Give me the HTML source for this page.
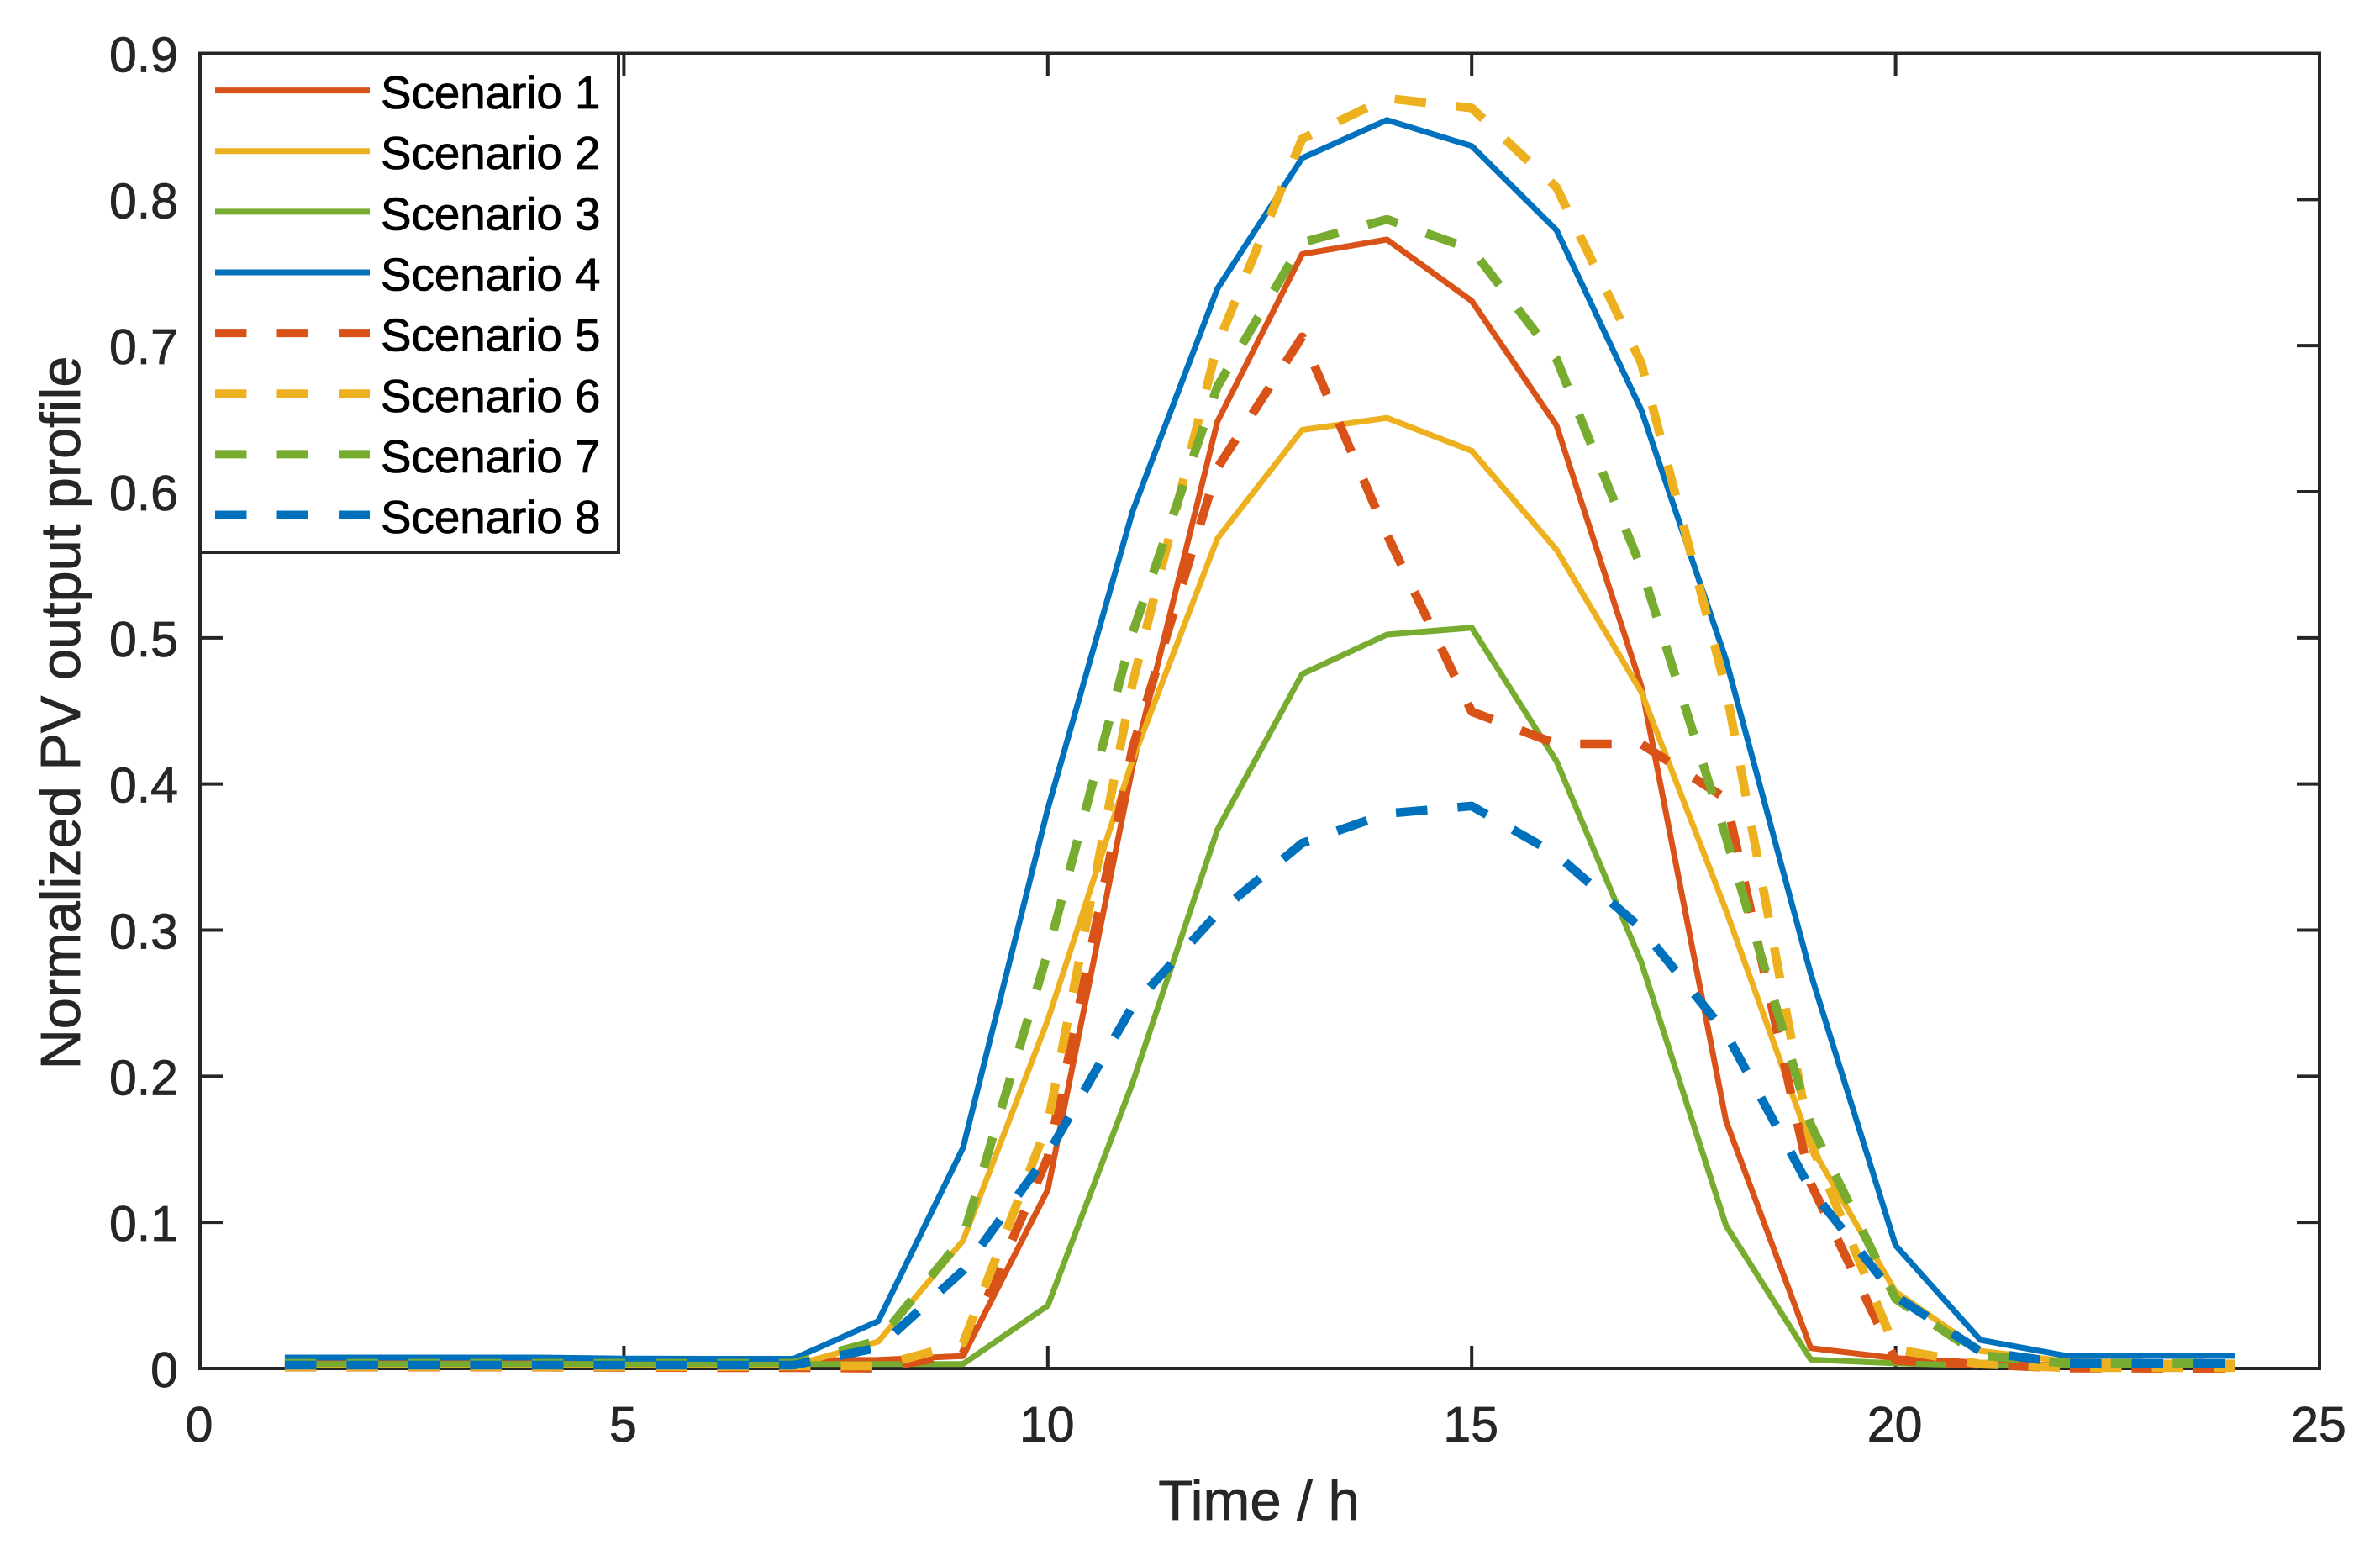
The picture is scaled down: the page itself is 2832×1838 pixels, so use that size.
<!DOCTYPE html>
<html lang="en">
<head>
<meta charset="utf-8">
<title>Normalized PV output profile</title>
<style>
html,body{margin:0;padding:0;background:#fff;}
body{width:2832px;height:1838px;overflow:hidden;}
svg{display:block;font-family:"Liberation Sans",Arial,sans-serif;}
</style>
</head>
<body>
<svg id="chart" xmlns="http://www.w3.org/2000/svg" width="2832" height="1838" viewBox="0 0 2832 1838">
  <rect x="0" y="0" width="2832" height="1838" fill="#ffffff"/>
  <g id="ticks"></g>
  <rect x="238" y="63.5" width="2522" height="1564.5" fill="none" stroke="#262626" stroke-width="4"/>
  <g id="tick-labels"></g>
  <g id="series"></g>
  <text x="1498" y="1808" font-size="67" fill="#262626" stroke="#262626" stroke-width="0.8" text-anchor="middle">Time / h</text>
  <text transform="translate(95 848) rotate(-90)" font-size="66.7" fill="#262626" stroke="#262626" stroke-width="0.8" text-anchor="middle">Normalized PV output profile</text>
  <g id="legend">
    <rect x="238" y="63.5" width="498" height="593.5" fill="#ffffff" stroke="#262626" stroke-width="4"/>
  </g>
</svg>
<script>
const hours = [1,2,3,4,5,6,7,8,9,10,11,12,13,14,15,16,17,18,19,20,21,22,23,24];
const scenario1 = [0.004,0.004,0.004,0.004,0.004,0.004,0.0055,0.0059,0.0085,0.1223,0.412,0.648,0.7626,0.7726,0.7306,0.6454,0.467,0.1695,0.014,0.007,0.004,0.002,0.002,0.002];
const scenario2 = [0.002,0.002,0.002,0.002,0.002,0.002,0.002,0.0184,0.0875,0.2385,0.4165,0.568,0.6423,0.6505,0.628,0.5603,0.463,0.3135,0.1524,0.0525,0.012,0.005,0.004,0.004];
const scenario3 = [0.003,0.003,0.003,0.003,0.003,0.003,0.003,0.003,0.003,0.043,0.1955,0.3687,0.4752,0.5022,0.507,0.4156,0.278,0.0978,0.0061,0.0035,0.002,0.002,0.002,0.002];
const scenario4 = [0.0075,0.0075,0.0075,0.0075,0.0068,0.0066,0.0066,0.0324,0.151,0.383,0.5866,0.739,0.8283,0.8544,0.8366,0.779,0.656,0.485,0.27,0.0842,0.0195,0.0088,0.0087,0.0087];
const scenario5 = [0.001,0.001,0.001,0.001,0.0008,0.0006,0.0006,0.0002,0.0103,0.1444,0.4246,0.6163,0.706,0.5707,0.4495,0.4274,0.4274,0.39,0.1265,0.0055,0.0027,0.0003,0.0002,0.0002];
const scenario6 = [0.0012,0.0012,0.0012,0.0012,0.0012,0.0012,0.0017,0.0017,0.0172,0.1676,0.4689,0.7007,0.8415,0.8694,0.8626,0.8083,0.688,0.4648,0.154,0.0132,0.003,0.0006,0.0006,0.0006];
const scenario7 = [0.0035,0.0035,0.0035,0.0035,0.0035,0.0035,0.0035,0.019,0.0897,0.2848,0.5035,0.672,0.7705,0.7864,0.766,0.6908,0.548,0.3637,0.1668,0.0477,0.009,0.0036,0.0035,0.0035];
const scenario8 = [0.0023,0.0023,0.0023,0.0023,0.0023,0.0023,0.0023,0.0142,0.067,0.1466,0.248,0.3114,0.3595,0.3798,0.3849,0.3517,0.3012,0.2295,0.1225,0.0495,0.0117,0.0036,0.0034,0.0034];

const seriesList = [scenario1,scenario2,scenario3,scenario4,scenario5,scenario6,scenario7,scenario8];
const seriesNames = ["Scenario 1","Scenario 2","Scenario 3","Scenario 4","Scenario 5","Scenario 6","Scenario 7","Scenario 8"];
const seriesColors = ["#d95319","#edb120","#77ac30","#0072bd","#d95319","#edb120","#77ac30","#0072bd"];
const seriesDashed = [false,false,false,false,true,true,true,true];
const xTicks = [0,5,10,15,20,25];
const yTicks = [0,0.1,0.2,0.3,0.4,0.5,0.6,0.7,0.8,0.9];
const xTickLabels = ["0","5","10","15","20","25"];
const yTickLabels = ["0","0.1","0.2","0.3","0.4","0.5","0.6","0.7","0.8","0.9"];

const NS = "http://www.w3.org/2000/svg";
const plotLeft = 238, plotRight = 2760, plotTop = 63.5, plotBottom = 1628;
const xMax = 25, yMax = 0.9, tickLength = 27;
function xScale(v){ return plotLeft + (plotRight - plotLeft) * v / xMax; }
function yScale(v){ return plotBottom - (plotBottom - plotTop) * v / yMax; }

const ticksGroup = document.getElementById("ticks");
const labelsGroup = document.getElementById("tick-labels");
const seriesGroup = document.getElementById("series");
const legendGroup = document.getElementById("legend");

function drawTickLine(parent, x1, y1, x2, y2){
  const line = document.createElementNS(NS, "line");
  
  
  line.setAttribute("x1", x1);
  line.setAttribute("y1", y1);
  line.setAttribute("x2", x2);
  line.setAttribute("y2", y2);
  line.setAttribute("stroke", "#262626");
  line.setAttribute("stroke-width", "4");
  parent.appendChild(line);
}

xTicks.forEach(function(tick, i){
  const x = xScale(tick);
  drawTickLine(ticksGroup, x, plotBottom, x, plotBottom - tickLength);
  drawTickLine(ticksGroup, x, plotTop, x, plotTop + tickLength);
  const label = document.createElementNS(NS, "text");
  
  
  label.setAttribute("x", x - 1);
  label.setAttribute("y", 1715);
  label.setAttribute("font-size", "59");
  label.setAttribute("fill", "#262626");
  label.setAttribute("stroke", "#262626");
  label.setAttribute("stroke-width", "0.8");
  label.setAttribute("text-anchor", "middle");
  label.textContent = xTickLabels[i];
  labelsGroup.appendChild(label);
});

yTicks.forEach(function(tick, i){
  const y = yScale(tick);
  drawTickLine(ticksGroup, plotLeft, y, plotLeft + tickLength, y);
  drawTickLine(ticksGroup, plotRight, y, plotRight - tickLength, y);
  const label = document.createElementNS(NS, "text");
  
  
  label.setAttribute("x", 212);
  label.setAttribute("y", y + 22);
  label.setAttribute("font-size", "59");
  label.setAttribute("fill", "#262626");
  label.setAttribute("stroke", "#262626");
  label.setAttribute("stroke-width", "0.8");
  label.setAttribute("text-anchor", "end");
  label.textContent = yTickLabels[i];
  labelsGroup.appendChild(label);
});

seriesList.forEach(function(values, i){
  const line = document.createElementNS(NS, "polyline");
  
  
  const pts = values.map(function(v, k){ return xScale(hours[k]).toFixed(1) + "," + yScale(v).toFixed(1); });
  line.setAttribute("points", pts.join(" "));
  line.setAttribute("fill", "none");
  line.setAttribute("stroke", seriesColors[i]);
  line.setAttribute("stroke-linejoin", "round");
  line.setAttribute("stroke-width", seriesDashed[i] ? "10.5" : "7");
  if (seriesDashed[i]) {
    line.setAttribute("stroke-dasharray", "37.5 36");
  }
  seriesGroup.appendChild(line);
});

seriesNames.forEach(function(name, i){
  const rowY = 107.6 + i * 72.13;
  const sample = document.createElementNS(NS, "line");
  
  
  sample.setAttribute("x1", 256);
  sample.setAttribute("x2", 440);
  sample.setAttribute("y1", rowY);
  sample.setAttribute("y2", rowY);
  sample.setAttribute("stroke", seriesColors[i]);
  sample.setAttribute("stroke-width", seriesDashed[i] ? "10" : "7");
  if (seriesDashed[i]) {
    sample.setAttribute("stroke-dasharray", "37.5 36");
  }
  legendGroup.appendChild(sample);
  const label = document.createElementNS(NS, "text");
  
  
  label.setAttribute("x", 453);
  label.setAttribute("y", rowY + 21.5);
  label.setAttribute("font-size", "54.7");
  label.setAttribute("fill", "#000000");
  label.setAttribute("stroke", "#000000");
  label.setAttribute("stroke-width", "0.8");
  label.textContent = name;
  legendGroup.appendChild(label);
});
</script>
</body>
</html>
